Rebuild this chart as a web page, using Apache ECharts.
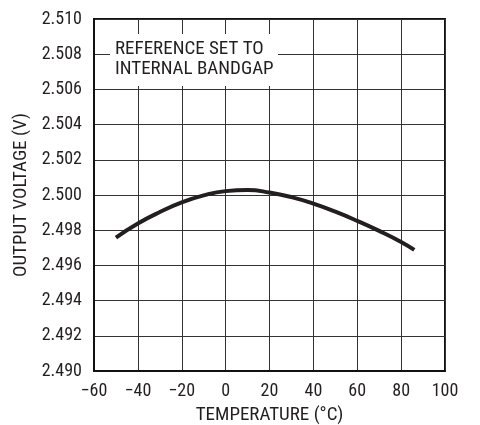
<!DOCTYPE html>
<html>
<head>
<meta charset="utf-8">
<script src="https://cdn.jsdelivr.net/npm/echarts@6/dist/echarts.min.js"></script>
<style>html,body{margin:0;padding:0;background:#fff}#c{width:480px;height:425px}</style>
</head>
<body>
<div id="c"></div>
<script>
var temperature = [-50, -40, -30, -20, -10, 0, 10, 20, 30, 40, 50, 60, 70, 80, 86];
var outputVoltage = [2.49758, 2.49838, 2.49903, 2.49958, 2.49998, 2.50022, 2.50028, 2.50014, 2.49988, 2.49951, 2.49905, 2.49853, 2.49796, 2.49733, 2.49688];
var annotationLines = ['REFERENCE SET TO', 'INTERNAL BANDGAP'];
var xTitle = 'TEMPERATURE (°C)';
var yTitle = 'OUTPUT VOLTAGE (V)';

var FONT = '"Roboto Condensed", "Liberation Sans Narrow", Roboto, sans-serif';
var chart = echarts.init(document.getElementById('c'));
var points = temperature.map(function (t, i) { return [t, outputVoltage[i]]; });

chart.setOption({
  animation: false,
  backgroundColor: '#fff',
  grid: { left: 94, right: 35, top: 19, bottom: 54, outerBoundsMode: 'none', containLabel: false,
    show: true, borderColor: '#111', borderWidth: 2, backgroundColor: 'transparent' },
  xAxis: {
    type: 'value', min: -60, max: 100, interval: 20,
    name: xTitle, nameLocation: 'middle', nameGap: 35,
    nameTextStyle: { fontFamily: FONT, fontSize: 19, color: '#231f20' },
    axisLine: { show: true, onZero: false, lineStyle: { color: '#111', width: 2 } },
    axisTick: { show: false },
    axisLabel: { fontFamily: FONT, fontSize: 18, color: '#231f20', margin: 11,
      formatter: function (v) { return String(v).replace('-', '\u2212'); } },
    splitLine: { show: true, lineStyle: { color: '#333', width: 1 } }
  },
  yAxis: {
    type: 'value', min: 2.490, max: 2.510, interval: 0.002,
    name: yTitle, nameLocation: 'middle', nameGap: 62,
    nameTextStyle: { fontFamily: FONT, fontSize: 19, color: '#231f20' },
    axisLine: { show: true, onZero: false, lineStyle: { color: '#111', width: 2 } },
    axisTick: { show: false },
    axisLabel: { fontFamily: FONT, fontSize: 18, color: '#231f20', margin: 12,
      formatter: function (v) { return v.toFixed(3); } },
    splitLine: { show: true, lineStyle: { color: '#333', width: 1 } }
  },
  graphic: [
    { type: 'rect', shape: { x: 110, y: 34, width: 168, height: 52 }, style: { fill: '#fff' }, z: 10 },
    { type: 'text', left: 115, top: 39, z: 11,
      style: { text: annotationLines.join('\n'), fontFamily: FONT, fontSize: 19, lineHeight: 20, fill: '#231f20' } }
  ],
  series: [{
    type: 'line', data: points, smooth: true, showSymbol: false,
    lineStyle: { color: '#231f20', width: 4 }, z: 5
  }]
});
</script>
</body>
</html>
